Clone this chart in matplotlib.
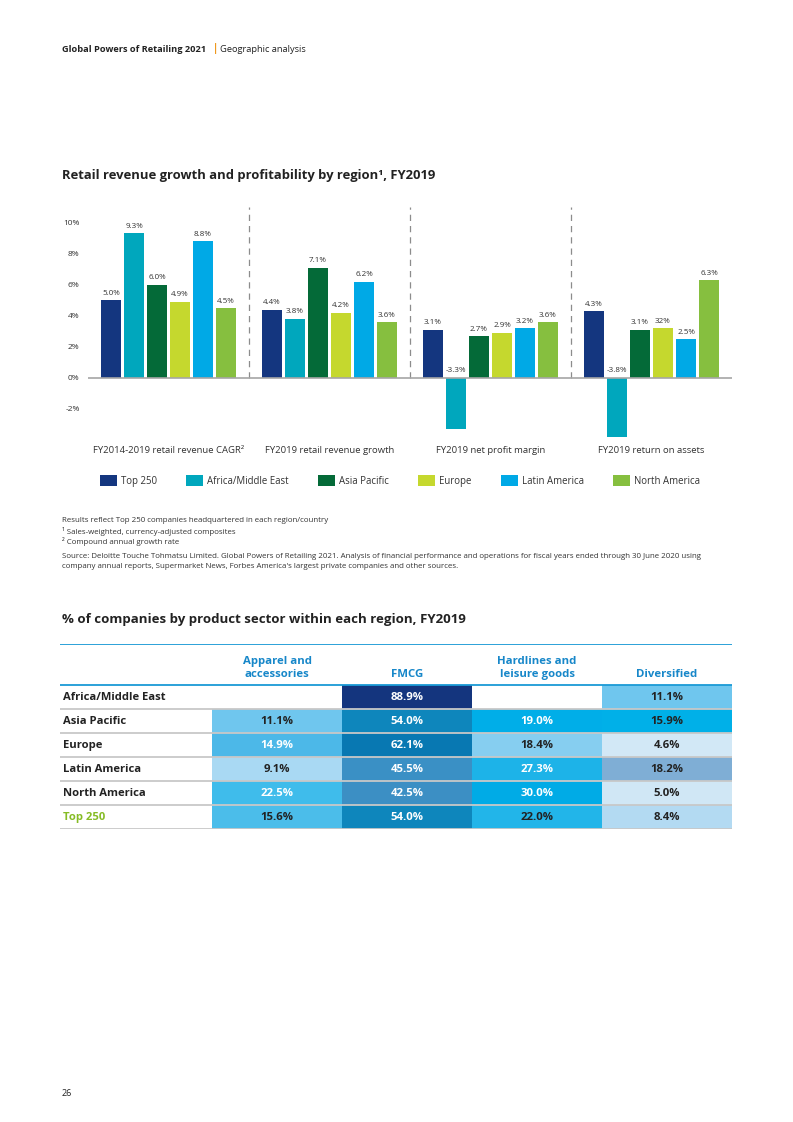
import matplotlib
matplotlib.use("Agg")
import matplotlib.pyplot as plt
from matplotlib.patches import Patch, Rectangle

plt.rcParams["font.family"] = ["Open Sans", "DejaVu Sans"]

# ---- bar chart data ----
metrics = ["FY2014-2019 retail revenue CAGR²", "FY2019 retail revenue growth",
           "FY2019 net profit margin", "FY2019 return on assets"]
regions = ["Top 250", "Africa/Middle East", "Asia Pacific", "Europe",
           "Latin America", "North America"]
top250 = [5.0, 4.4, 3.1, 4.3]
africa_me = [9.3, 3.8, -3.3, -3.8]
asia_pac = [6.0, 7.1, 2.7, 3.1]
europe = [4.9, 4.2, 2.9, 3.2]
latam = [8.8, 6.2, 3.2, 2.5]
north_am = [4.5, 3.6, 3.6, 6.3]
y_ticks = [-2, 0, 2, 4, 6, 8, 10]
# the report prints Europe's ROA as "32%"
label_typos = {(3, 3): "32%"}

# ---- table data ----
sectors = ["Apparel and\naccessories", "FMCG", "Hardlines and\nleisure goods", "Diversified"]
table_rows = ["Africa/Middle East", "Asia Pacific", "Europe", "Latin America",
              "North America", "Top 250"]
apparel = [None, 11.1, 14.9, 9.1, 22.5, 15.6]
fmcg = [88.9, 54.0, 62.1, 45.5, 42.5, 54.0]
hardlines = [None, 19.0, 18.4, 27.3, 30.0, 22.0]
diversified = [11.1, 15.9, 4.6, 18.2, 5.0, 8.4]

bar_colors = ["#14367f", "#00a7bd", "#046a38", "#c5d82e", "#00a9e6", "#86bf3f"]
cell_colors = [
    ["#ffffff", "#14357e", "#ffffff", "#6fc6ee"],
    ["#6fc6ee", "#0e86bc", "#00aee8", "#00b0e8"],
    ["#4cb8e8", "#0878b2", "#86cef0", "#d2e8f6"],
    ["#a9d9f3", "#3a90c5", "#1db3e8", "#7faed5"],
    ["#3fbceb", "#3c8fc4", "#00abe6", "#d0e7f5"],
    ["#4bbdea", "#0e86bc", "#22b5e9", "#b3daf2"],
]
light_text = [
    [False, True, False, False],
    [False, True, True, False],
    [True, True, False, False],
    [False, True, True, False],
    [True, True, True, False],
    [False, True, False, False],
]

W, H = 793, 1122
DARK = "#222222"


def fx(px):
    return px / W


def fy(py):
    return 1 - py / H


fig = plt.figure(figsize=(W / 100, H / 100), dpi=100)

# ---- page header ----
fig.text(fx(62), fy(49), "Global Powers of Retailing 2021", fontsize=6.7,
         fontweight="bold", color=DARK, va="center")
fig.text(fx(213), fy(49), "|", fontsize=7, fontweight="bold", color="#ed8b00", va="center")
fig.text(fx(220), fy(49), "Geographic analysis", fontsize=6.7, color=DARK, va="center")

fig.text(fx(62), fy(175), "Retail revenue growth and profitability by region¹, FY2019",
         fontsize=9.4, fontweight="bold", color=DARK, va="center")

# ---- bar chart ----
ax = fig.add_axes([fx(88), fy(440), (732 - 88) / W, (440 - 207) / H])
series = [top250, africa_me, asia_pac, europe, latam, north_am]
for i, vals in enumerate(series):
    xs = [g * 7 + i for g in range(len(metrics))]
    bars = ax.bar(xs, vals, width=0.83, color=bar_colors[i], zorder=2)
    for g, (b, v) in enumerate(zip(bars, vals)):
        lab = label_typos.get((i, g), f"{v:.1f}%")
        ax.text(b.get_x() + b.get_width() / 2, max(v, 0) + 0.22, lab,
                ha="center", va="bottom", fontsize=5.8, color="#333333")

for g, m in enumerate(metrics):
    ax.text(g * 7 + 2.5, -4.7, m, ha="center", va="center", fontsize=6.8,
            color="#333333", clip_on=False)

ax.axhline(0, color="#a6a6a6", lw=1.2, zorder=3)
ax.vlines([g * 7 - 1 for g in range(1, len(metrics))], 0, 11, colors="#8c8c8c",
          linestyles=(0, (5, 4)), lw=0.9)
ax.set_xlim(-1, 27)
ax.set_ylim(-4, 11)
ax.set_xticks([])
ax.set_yticks(y_ticks)
ax.set_yticklabels([f"{t}%" for t in y_ticks], fontsize=6, color="#333333")
ax.tick_params(axis="y", length=0, pad=6)
for s in ax.spines.values():
    s.set_visible(False)

handles = [Patch(facecolor=c, edgecolor="none") for c in bar_colors]
fig.legend(handles, regions, loc="center", bbox_to_anchor=(fx(400), fy(481)),
           ncol=6, frameon=False, fontsize=6.9, handlelength=1.75, handleheight=1.35,
           handletextpad=0.4, columnspacing=3.1, labelcolor="#333333")

# ---- footnotes ----
notes = ["Results reflect Top 250 companies headquartered in each region/country",
         "¹ Sales-weighted, currency-adjusted composites",
         "² Compound annual growth rate"]
for k, n in enumerate(notes):
    fig.text(fx(62), fy(521 + 10 * k), n, fontsize=5.65, color="#333333", va="center")
fig.text(fx(62), fy(557), "Source: Deloitte Touche Tohmatsu Limited. Global Powers of Retailing 2021. "
         "Analysis of financial performance and operations for fiscal years ended through 30 June 2020 using",
         fontsize=5.65, color="#333333", va="center")
fig.text(fx(62), fy(567), "company annual reports, Supermarket News, Forbes America's largest private "
         "companies and other sources.", fontsize=5.65, color="#333333", va="center")

fig.text(fx(62), fy(620), "% of companies by product sector within each region, FY2019",
         fontsize=9.5, fontweight="bold", color=DARK, va="center")

# ---- table ----
tx = fig.add_axes([fx(60), fy(829), 672 / W, (829 - 644) / H])
label_w = 1.17
head_h = 1.71
tx.set_xlim(-label_w, 4)
tx.set_ylim(len(table_rows), -head_h)
tx.axis("off")

columns = [apparel, fmcg, hardlines, diversified]
for r, name in enumerate(table_rows):
    for c, col in enumerate(columns):
        v = col[r]
        tx.add_patch(Rectangle((c, r), 1, 1, facecolor=cell_colors[r][c], edgecolor="none"))
        if v is not None:
            tx.text(c + 0.5, r + 0.5, f"{v:.1f}%", ha="center", va="center",
                    fontsize=8.2, fontweight="bold",
                    color="white" if light_text[r][c] else DARK)
    tx.text(-label_w + 0.02, r + 0.5, name, ha="left", va="center", fontsize=8.1,
            fontweight="bold", color="#86bc25" if name == "Top 250" else DARK)

for c, s in enumerate(sectors):
    tx.text(c + 0.5, -0.22, s, ha="center", va="bottom", fontsize=8.2,
            fontweight="bold", color="#1787c9", linespacing=1.25)

tx.hlines(range(1, len(table_rows) + 1), -label_w, 4, colors="#c8c8c8", lw=1.3)
tx.hlines([-head_h, 0], -label_w, 4, colors="#1a9ad6", lw=1.3)

fig.text(fx(62), fy(1093), "26", fontsize=6.5, color=DARK, va="center")

fig.savefig("out.png", dpi=100)
